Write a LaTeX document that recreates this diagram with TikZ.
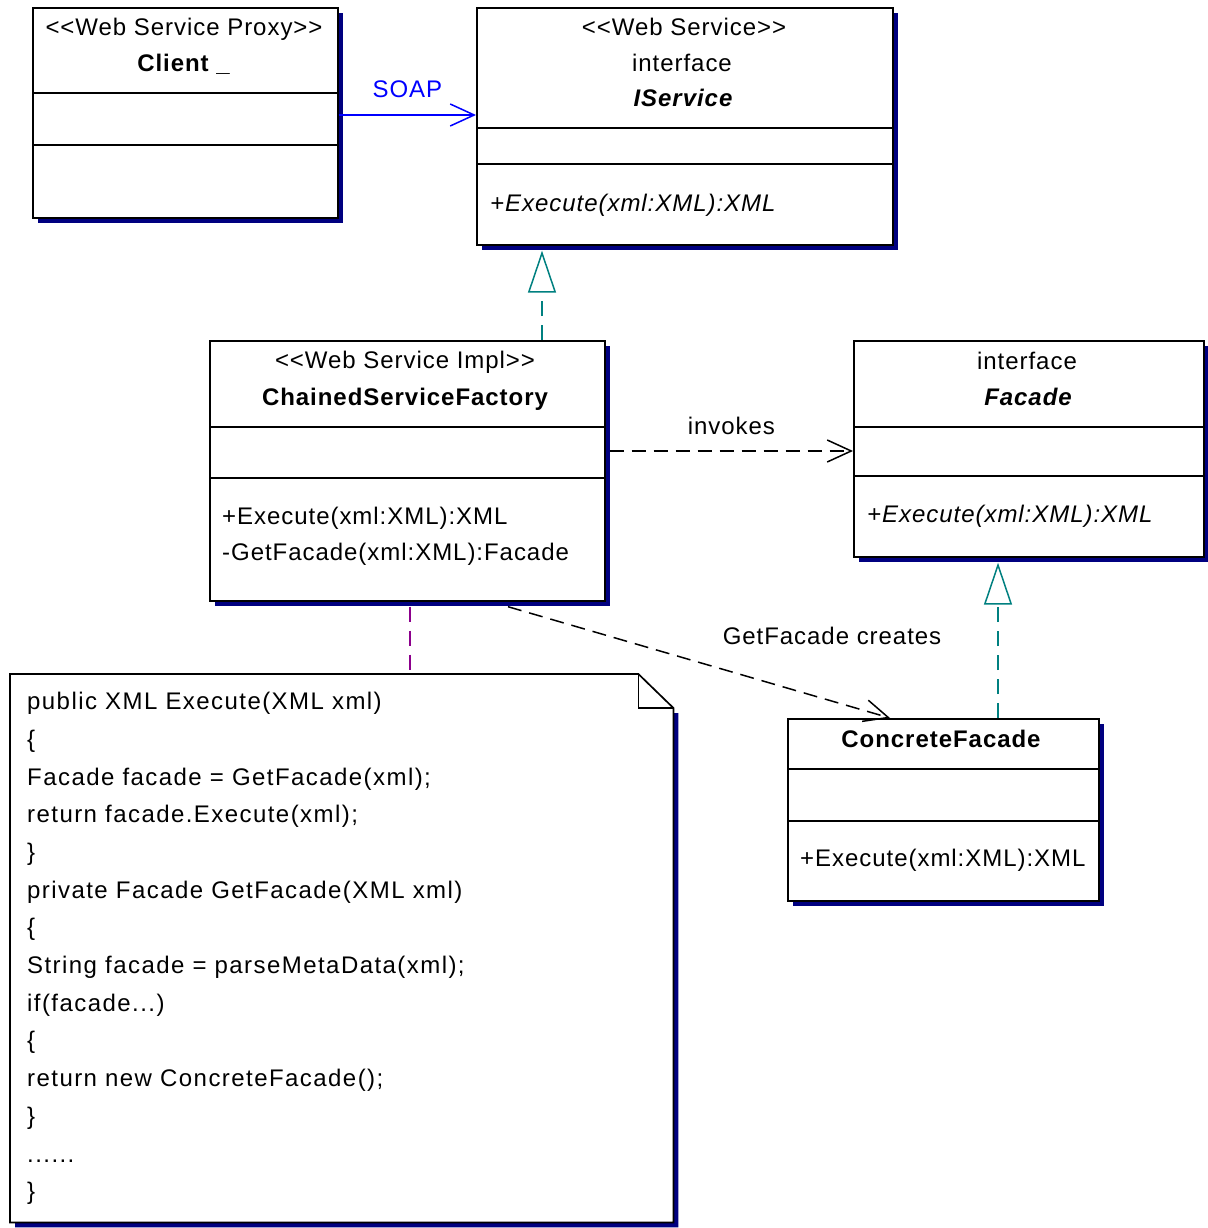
\documentclass[tikz,border=0pt]{standalone}
\usepackage{fontspec}
\setmainfont{Liberation Sans}
\newfontfamily\umlfont[LetterSpace=4]{Liberation Sans}
\newfontfamily\codefont[LetterSpace=6]{Liberation Sans}
\usepackage{xcolor}
\usetikzlibrary{arrows.meta, shadows, calc, positioning}

\definecolor{umlshadow}{RGB}{0,0,128}
\definecolor{umlteal}{RGB}{0,128,128}
\definecolor{umlpurple}{RGB}{140,0,140}
\definecolor{umlblue}{RGB}{0,0,255}

\tikzset{
    umlbox/.style 2 args={draw, line width=1.7pt, fill=white, anchor=north west, inner sep=0pt,
        minimum width=#1, minimum height=#2,
        drop shadow={shadow xshift=5pt, shadow yshift=-5pt, fill=umlshadow, opacity=1}},
    divider/.style={line width=1.5pt},
    umltxt/.style={inner sep=0pt, anchor=base, font=\fontsize{24}{28}\umlfont},
    umlop/.style={umltxt, anchor=base west},
    codetxt/.style={inner sep=0pt, anchor=north west, align=left, font=\fontsize{24}{37.7}\codefont},
    soaplink/.style={draw=umlblue, line width=1.5pt, -{Straight Barb[length=24pt, width=22pt]}},
    depend/.style={line width=1.5pt, dash pattern=on 14pt off 8pt, -{Straight Barb[length=24pt, width=22pt]}},
    realize/.style={draw=umlteal, line width=1.5pt, dash pattern=on 15pt off 9pt,
        -{Triangle[length=42pt, width=28pt, fill=white]}},
    notelink/.style={draw=umlpurple, line width=1.5pt, dash pattern=on 15pt off 9pt}
}

\begin{document}
\begin{tikzpicture}[x=1pt, y=-1pt]
    \useasboundingbox (0,0) rectangle (1207,1228);

    % proxy
    \node[umlbox={305pt}{210pt}] (client) at (32,7) {};
    \draw[divider] (client.west |- 0,93) -- (client.east |- 0,93);
    \draw[divider] (client.west |- 0,145) -- (client.east |- 0,145);
    \node[umltxt] (clientst) at (184,35.5) {<{}<Web Service Proxy>{}>};
    \node[umltxt] (clientname) at (183.5,71.5) {\bfseries Client \_};

    % web service
    \node[umlbox={416pt}{237pt}] (iservice) at (476,7) {};
    \draw[divider] (iservice.west |- 0,128) -- (iservice.east |- 0,128);
    \draw[divider] (iservice.west |- 0,164) -- (iservice.east |- 0,164);
    \node[umltxt] (iservicest) at (684,35.5) {<{}<Web Service>{}>};
    \node[umltxt] (iservicekind) at (682,71.5) {interface};
    \node[umltxt] (iservicename) at (683,106.5) {\bfseries\itshape IService};
    \node[umlop] (iserviceop) at (490,211.5) {\itshape +Execute(xml:XML):XML};

    % implementation
    \node[umlbox={395pt}{260pt}] (csf) at (209,340) {};
    \draw[divider] (csf.west |- 0,427) -- (csf.east |- 0,427);
    \draw[divider] (csf.west |- 0,478) -- (csf.east |- 0,478);
    \node[umltxt] (csfst) at (405,368.5) {<{}<Web Service Impl>{}>};
    \node[umltxt] (csfname) at (405,405.5) {\bfseries ChainedServiceFactory};
    \node[umlop] (csfop1) at (222,524.5) {+Execute(xml:XML):XML};
    \node[umlop] (csfop2) at (222,560.5) {-GetFacade(xml:XML):Facade};

    % facade
    \node[umlbox={350pt}{216pt}] (facade) at (853,340) {};
    \draw[divider] (facade.west |- 0,427) -- (facade.east |- 0,427);
    \draw[divider] (facade.west |- 0,476) -- (facade.east |- 0,476);
    \node[umltxt] (facadekind) at (1027,369.5) {interface};
    \node[umltxt] (facadename) at (1028,405.5) {\bfseries\itshape Facade};
    \node[umlop] (facadeop) at (867,522.5) {\itshape +Execute(xml:XML):XML};

    % concrete facade
    \node[umlbox={311pt}{182pt}] (concrete) at (787,718) {};
    \draw[divider] (concrete.west |- 0,769) -- (concrete.east |- 0,769);
    \draw[divider] (concrete.west |- 0,821) -- (concrete.east |- 0,821);
    \node[umltxt] (concretename) at (941,747.5) {\bfseries ConcreteFacade};
    \node[umlop] (concreteop) at (800,866.5) {+Execute(xml:XML):XML};

    % note
    \node[minimum width=663pt, minimum height=548pt, anchor=north west, inner sep=0pt] (note) at (10,674) {};
    \fill[umlshadow] ($(note.north east)+(0,39)$) -- ++(5,0) |- ($(note.south west)+(5,5)$)
        -- ++(0,-5) -- (note.south east) -- cycle;
    \draw[line width=1.7pt, fill=white] (note.north west) -- ($(note.north east)+(-35,0)$)
        -- ($(note.north east)+(0,34)$) -- (note.south east) -- (note.south west) -- cycle;
    \draw[line width=1.5pt] ($(note.north east)+(-35,0)$) |- ($(note.north east)+(0,34)$);
    \node[codetxt] (code) at (27,692) {public XML Execute(XML xml)\\
        \{\\
        Facade facade = GetFacade(xml);\\
        return facade.Execute(xml);\\
        \}\\
        private Facade GetFacade(XML xml)\\
        \{\\
        String facade = parseMetaData(xml);\\
        if(facade...)\\
        \{\\
        return new ConcreteFacade();\\
        \}\\
        ......\\
        \}};

    % connectors
    \draw[soaplink] (client.east |- 0,115) -- node[umltxt, text=umlblue, above=17pt] (soap) {SOAP}
        (iservice.west |- 0,115);
    \draw[realize] (csf.north -| 542,0) -- ($(iservice.south -| 542,0)+(0,5)$);
    \draw[realize] (concrete.north -| 998,0) -- ($(facade.south -| 998,0)+(0,5)$);
    \draw[depend] ($(csf.east |- 0,451)+(4,0)$) -- node[umltxt, above=16pt] (invokes) {invokes}
        (facade.west |- 0,451);
    \draw[depend] ($(csf.south -| 508,0)+(0,5)$) -- (concrete.north -| 890,0);
    \node[umltxt] (creates) at (832,644.5) {GetFacade creates};
    \draw[notelink] ($(csf.south -| 410,0)+(0,5)$) -- (note.north -| 410,0);
\end{tikzpicture}
\end{document}
